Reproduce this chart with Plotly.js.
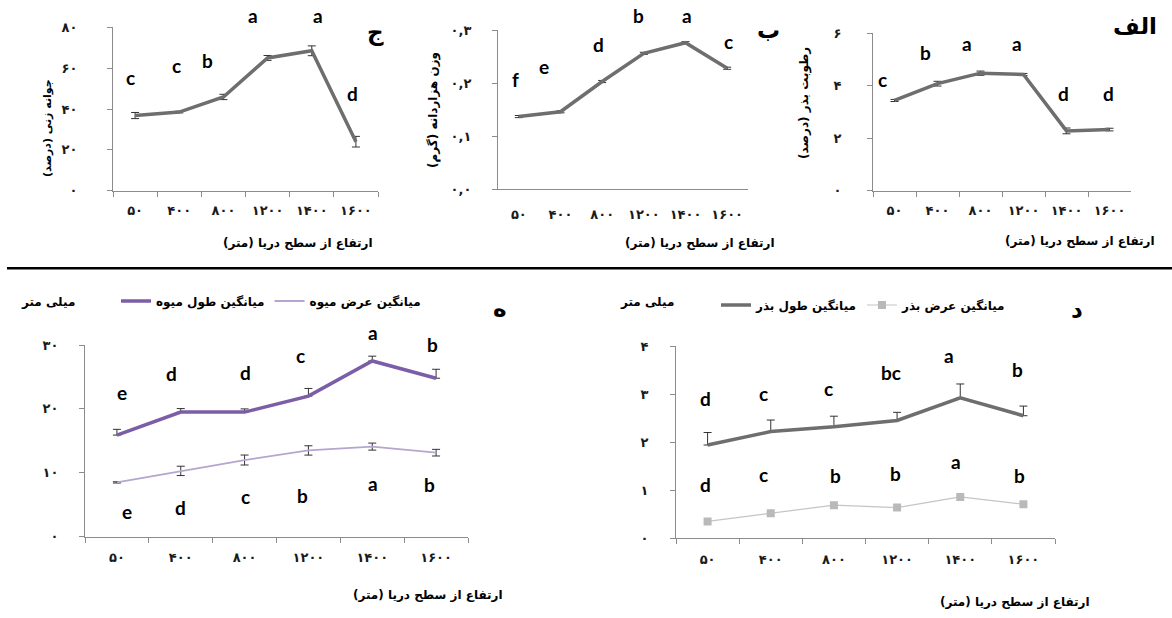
<!DOCTYPE html>
<html>
<head>
<meta charset="utf-8">
<script src="https://cdn.plot.ly/plotly-3.0.1.min.js"></script>
<style>
html,body{margin:0;padding:0;background:#fff;}
#chart{width:1172px;height:618px;}
</style>
</head>
<body>
<div id="chart"></div>
<script>
// ---------- DATA ----------
const altitudes = ['۵۰', '۴۰۰', '۸۰۰', '۱۲۰۰', '۱۴۰۰', '۱۶۰۰'];

// Panel ج : germination (%)
const germination = [36.8, 38.5, 45.9, 65.0, 68.5, 24.0];
const germinationErr = [1.5, 0.4, 1.3, 1.2, 2.4, 2.6];
const germinationLetters = ['c', 'c', 'b', 'a', 'a', 'd'];
const germinationLetterX = [-0.10, 0.93, 1.65, 2.67, 4.14, 4.93];
const germinationLetterY = [55.3, 61.3, 63.8, 85.7, 85.7, 47.8];
const germinationTickVals = [0, 20, 40, 60, 80];
const germinationTickText = ['۰', '۲۰', '۴۰', '۶۰', '۸۰'];

// Panel ب : thousand-seed weight (g)
const seedWeight = [0.137, 0.146, 0.203, 0.256, 0.276, 0.228];
const seedWeightErr = [0.002, 0.002, 0.002, 0.002, 0.002, 0.002];
const seedWeightLetters = ['f', 'e', 'd', 'b', 'a', 'c'];
const seedWeightLetterX = [-0.09, 0.60, 1.90, 2.88, 4.04, 5.02];
const seedWeightLetterY = [0.207, 0.232, 0.273, 0.328, 0.328, 0.278];
const seedWeightTickVals = [0, 0.1, 0.2, 0.3];
const seedWeightTickText = ['۰,۰', '۰,۱', '۰,۲', '۰,۳'];

// Panel الف : seed moisture (%)
const moisture = [3.44, 4.08, 4.48, 4.43, 2.28, 2.33];
const moistureErr = [0.04, 0.09, 0.08, 0.04, 0.11, 0.05];
const moistureLetters = ['c', 'b', 'a', 'a', 'd', 'd'];
const moistureLetterX = [-0.29, 0.71, 1.69, 2.85, 3.92, 4.97];
const moistureLetterY = [4.23, 5.28, 5.63, 5.63, 3.72, 3.72];
const moistureTickVals = [0, 2, 4, 6];
const moistureTickText = ['۰', '۲', '۴', '۶'];

// Panel ه : fruit length / width (mm)
const fruitLength = [15.9, 19.5, 19.5, 22.0, 27.5, 24.8];
const fruitLengthErr = [0.9, 0.55, 0.5, 1.2, 0.75, 1.4];
const fruitWidth = [8.5, 10.3, 12.0, 13.5, 14.1, 13.15];
const fruitWidthErr = [0.1, 0.73, 0.78, 0.73, 0.55, 0.52];
const fruitLengthLetters = ['e', 'd', 'd', 'c', 'a', 'b'];
const fruitLengthLetterX = [0.08, 0.85, 2.01, 2.88, 4.01, 4.95];
const fruitLengthLetterY = [22.5, 25.5, 25.7, 28.4, 31.9, 30.1];
const fruitWidthLetters = ['e', 'd', 'c', 'b', 'a', 'b'];
const fruitWidthLetterX = [0.16, 0.99, 2.01, 2.90, 4.01, 4.89];
const fruitWidthLetterY = [3.9, 4.6, 6.3, 6.4, 8.4, 8.1];
const fruitTickVals = [0, 10, 20, 30];
const fruitTickText = ['۰', '۱۰', '۲۰', '۳۰'];

// Panel د : seed length / width (mm)
const seedLength = [1.94, 2.22, 2.32, 2.45, 2.92, 2.55];
const seedLengthErr = [0.26, 0.24, 0.22, 0.17, 0.29, 0.20];
const seedWidth = [0.35, 0.52, 0.69, 0.64, 0.86, 0.71];
const seedLengthLetters = ['d', 'c', 'c', 'bc', 'a', 'b'];
const seedLengthLetterX = [-0.04, 0.89, 1.92, 2.90, 3.82, 4.91];
const seedLengthLetterY = [2.91, 3.01, 3.12, 3.44, 3.81, 3.51];
const seedWidthLetters = ['d', 'c', 'b', 'b', 'a', 'b'];
const seedWidthLetterX = [-0.04, 0.88, 2.02, 2.97, 3.94, 4.94];
const seedWidthLetterY = [1.11, 1.32, 1.30, 1.35, 1.59, 1.30];
const seedTickVals = [0, 1, 2, 3, 4];
const seedTickText = ['۰', '۱', '۲', '۳', '۴'];

// ---------- LAYOUT HELPERS ----------
const W = 1172, H = 618;
const px = x => x / W;
const py = y => 1 - y / H;

const FA = 'DejaVu Sans';
const LAT = 'Lato, "Open Sans", sans-serif';
const axisColor = '#8c8c8c';
const zeros = [0, 0, 0, 0, 0, 0];

function xAxis(anchor, domain, standoff, showTicks) {
  return {
    anchor: anchor,
    domain: domain, type: 'category', range: [-0.5, 5.5],
    showgrid: false, zeroline: false, showline: true, linecolor: axisColor, linewidth: 1,
    ticks: showTicks ? 'outside' : '', tickson: 'boundaries', ticklen: 5, tickcolor: axisColor,
    ticklabelstandoff: standoff,
    tickfont: {family: FA, size: 13, color: '#1a1a1a', weight: 'bold'},
    fixedrange: true
  };
}
function yAxis(anchor, domain, range, vals, text, standoff) {
  return {
    anchor: anchor,
    domain: domain, range: range,
    showgrid: false, zeroline: false, showline: true, linecolor: axisColor, linewidth: 1,
    ticks: 'outside', ticklen: 5, tickcolor: axisColor,
    tickvals: vals, ticktext: text, ticklabelstandoff: standoff,
    tickfont: {family: FA, size: 13, color: '#1a1a1a', weight: 'bold'},
    fixedrange: true
  };
}

const greyLine = '#6e6e6e';
const errStyle = (arr) => ({type: 'data', array: arr, visible: true, color: '#333', thickness: 1, width: 4});

const traces = [
  // ج
  {x: altitudes, y: germination, xaxis: 'x', yaxis: 'y', type: 'scatter', mode: 'lines',
   line: {color: greyLine, width: 3.5}, error_y: errStyle(germinationErr), showlegend: false, hoverinfo: 'skip'},
  // ب
  {x: altitudes, y: seedWeight, xaxis: 'x2', yaxis: 'y2', type: 'scatter', mode: 'lines',
   line: {color: greyLine, width: 3.5}, error_y: errStyle(seedWeightErr), showlegend: false, hoverinfo: 'skip'},
  // الف
  {x: altitudes, y: moisture, xaxis: 'x3', yaxis: 'y3', type: 'scatter', mode: 'lines',
   line: {color: greyLine, width: 3.5}, error_y: errStyle(moistureErr), showlegend: false, hoverinfo: 'skip'},
  // ه
  {x: altitudes, y: fruitLength, xaxis: 'x4', yaxis: 'y4', type: 'scatter', mode: 'lines',
   name: 'میانگین طول میوه', legend: 'legend',
   line: {color: '#7b5ea7', width: 3.5},
   error_y: {type: 'data', symmetric: false, array: fruitLengthErr, arrayminus: zeros, color: '#333', thickness: 1, width: 4},
   hoverinfo: 'skip'},
  {x: altitudes, y: fruitWidth, xaxis: 'x4', yaxis: 'y4', type: 'scatter', mode: 'lines',
   name: 'میانگین عرض میوه', legend: 'legend',
   line: {color: '#b5a6d0', width: 1.8}, error_y: errStyle(fruitWidthErr), hoverinfo: 'skip'},
  // د
  {x: altitudes, y: seedLength, xaxis: 'x5', yaxis: 'y5', type: 'scatter', mode: 'lines',
   name: 'میانگین طول بذر', legend: 'legend2',
   line: {color: greyLine, width: 3.5},
   error_y: {type: 'data', symmetric: false, array: seedLengthErr, arrayminus: zeros, color: '#333', thickness: 1, width: 4},
   hoverinfo: 'skip'},
  {x: altitudes, y: seedWidth, xaxis: 'x5', yaxis: 'y5', type: 'scatter', mode: 'lines+markers',
   name: 'میانگین عرض بذر', legend: 'legend2',
   line: {color: '#c4c4c4', width: 1.2}, marker: {symbol: 'square', size: 8, color: '#b9b9b9'},
   hoverinfo: 'skip'}
];

const annotations = [];
// letters: x in category units, y given in data units, placed via the axis domain so that
// letters above the axis top (e.g. 85.7 on a 0-80 axis) are still drawn
function letters(list, xs, ys, xref, yaxisName, range) {
  list.forEach((t, i) => annotations.push({
    text: '<b>' + t + '</b>', x: xs[i], y: (ys[i] - range[0]) / (range[1] - range[0]),
    xref: xref, yref: yaxisName + ' domain', xanchor: 'center', yanchor: 'middle',
    showarrow: false, font: {family: LAT, size: 19, color: '#000'}
  }));
}
letters(germinationLetters, germinationLetterX, germinationLetterY, 'x', 'y', [0, 80]);
letters(seedWeightLetters, seedWeightLetterX, seedWeightLetterY, 'x2', 'y2', [0, 0.3]);
letters(moistureLetters, moistureLetterX, moistureLetterY, 'x3', 'y3', [0, 6]);
letters(fruitLengthLetters, fruitLengthLetterX, fruitLengthLetterY, 'x4', 'y4', [0, 30]);
letters(fruitWidthLetters, fruitWidthLetterX, fruitWidthLetterY, 'x4', 'y4', [0, 30]);
letters(seedLengthLetters, seedLengthLetterX, seedLengthLetterY, 'x5', 'y5', [0, 4]);
letters(seedWidthLetters, seedWidthLetterX, seedWidthLetterY, 'x5', 'y5', [0, 4]);

function paperText(text, x, y, size, xanchor, angle) {
  annotations.push({
    text: '<b>' + text + '</b>', x: px(x), y: py(y), xref: 'paper', yref: 'paper',
    xanchor: xanchor || 'center', yanchor: 'middle', showarrow: false, textangle: angle || 0,
    font: {family: FA, size: size, color: '#000'}
  });
}
// panel labels
paperText('ج', 375, 33, 23);
paperText('ب', 768, 30, 23);
paperText('الف', 1135, 26, 23);
paperText('ه', 500, 308, 23);
paperText('د', 1077, 310, 23);
// x titles
const xTitle = 'ارتفاع از سطح دریا (متر)';
paperText(xTitle, 375, 243, 12, 'right');
paperText(xTitle, 777, 243, 12, 'right');
paperText(xTitle, 1157, 241, 12, 'right');
paperText(xTitle, 505, 595, 12, 'right');
paperText(xTitle, 1092, 602, 12, 'right');
// y titles
paperText('جوانه زنی (درصد)', 48, 128, 11, 'center', -90);
paperText('وزن هزاردانه (گرم)', 433, 110, 12, 'center', -90);
paperText('رطوبت بذر (درصد)', 805, 103, 12, 'center', -90);
paperText('میلی متر', 48, 302, 12);
paperText('میلی متر', 647, 302, 12);

const layout = {
  width: W, height: H,
  margin: {l: 0, r: 0, t: 0, b: 0},
  paper_bgcolor: '#fff', plot_bgcolor: 'rgba(0,0,0,0)',
  showlegend: true,
  xaxis: xAxis('y', [px(113), px(378)], 8, true),
  yaxis: yAxis('x', [py(190.7), py(27.3)], [0, 80], germinationTickVals, germinationTickText, 27),
  xaxis2: xAxis('y2', [px(498), px(748)], 13, false),
  yaxis2: yAxis('x2', [py(189.3), py(30)], [0, 0.3], seedWeightTickVals, seedWeightTickText, 18),
  xaxis3: xAxis('y3', [px(873), px(1131)], 8, true),
  yaxis3: yAxis('x3', [py(190.7), py(33.3)], [0, 6], moistureTickVals, moistureTickText, 23),
  xaxis4: xAxis('y4', [px(85), px(468)], 9, true),
  yaxis4: yAxis('x4', [py(536.7), py(345)], [0, 30], fruitTickVals, fruitTickText, 18),
  xaxis5: xAxis('y5', [px(676), px(1055)], 9, true),
  yaxis5: yAxis('x5', [py(538.3), py(346)], [0, 4], seedTickVals, seedTickText, 19),
  legend: {orientation: 'h', x: px(116), y: py(301), xanchor: 'left', yanchor: 'middle',
           font: {family: FA, size: 12, color: '#000', weight: 'bold'}, bgcolor: 'rgba(0,0,0,0)',
           itemclick: false, itemdoubleclick: false},
  legend2: {orientation: 'h', x: px(716), y: py(305), xanchor: 'left', yanchor: 'middle',
           font: {family: FA, size: 12, color: '#000', weight: 'bold'}, bgcolor: 'rgba(0,0,0,0)',
           itemclick: false, itemdoubleclick: false},
  annotations: annotations,
  shapes: [{type: 'line', xref: 'paper', yref: 'paper', x0: px(7), x1: 1, y0: py(268.3), y1: py(268.3),
            line: {color: '#000', width: 2.5}}]
};

Plotly.newPlot('chart', traces, layout, {displayModeBar: false, staticPlot: true});
</script>
</body>
</html>
